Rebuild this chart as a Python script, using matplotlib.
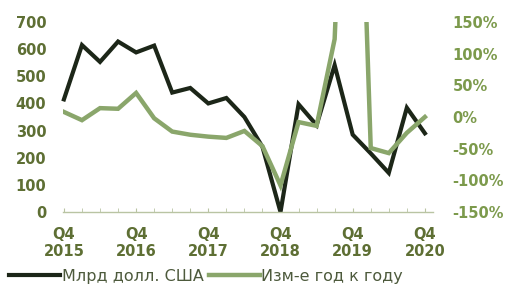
import matplotlib.pyplot as plt

# quarterly data, Q4 2015 .. Q4 2020
quarters = list(range(21))
usd_bn = [415, 615, 553, 628, 588, 613, 440, 457, 400, 420, 350,
          240, 0, 397, 320, 541, 285, 216, 144, 384, 290]
yoy_pct = [8, -5, 14, 13, 38, -2, -23, -28, -31, -33, -22,
           -46, -108, -8, -14, 123, 800, -49, -57, -25, 0]
tick_pos = [0, 4, 8, 12, 16, 20]
tick_labels = ['Q4\n2015', 'Q4\n2016', 'Q4\n2017', 'Q4\n2018', 'Q4\n2019', 'Q4\n2020']

dark = '#1c2618'
light = '#8aa66b'
left_txt = '#5e6f34'
right_txt = '#7c9a4c'
axis_col = '#b9c4a3'

plt.rcParams['font.family'] = ['DejaVu Sans']

fig = plt.figure(figsize=(5.09, 2.85), dpi=100)
ax = fig.add_axes([0.1238, 0.2561, 0.7269, 0.6667])
ax2 = ax.twinx()

l1, = ax.plot(quarters, usd_bn, color=dark, lw=3.0, clip_on=False,
              solid_joinstyle='miter', label='Млрд долл. США')
l2, = ax2.plot(quarters, yoy_pct, color=light, lw=3.2,
               solid_joinstyle='miter', label='Изм-е год к году')

ax.set_xlim(-0.05, 20.45)
ax.set_ylim(0, 700)
ax.set_yticks(range(0, 701, 100))
ax2.set_ylim(-150, 150)
ax2.set_yticks(range(-150, 151, 50))
ax2.set_yticklabels([f'{v}%' for v in range(-150, 151, 50)])

ax.set_xticks(tick_pos)
ax.set_xticklabels(tick_labels, fontsize=10.5, fontweight='bold', color=left_txt,
                   linespacing=1.15)
ax.set_xticks(quarters, minor=True)

for a in (ax, ax2):
    for s in ('top', 'left', 'right'):
        a.spines[s].set_visible(False)
    a.spines['bottom'].set_color(axis_col)
    a.spines['bottom'].set_linewidth(1.0)

ax.tick_params(axis='x', which='both', direction='in', length=3, color=axis_col, pad=11)
ax.tick_params(axis='y', length=0, pad=12, labelsize=10.5, labelcolor=left_txt)
ax2.tick_params(axis='y', length=0, pad=14, labelsize=10.5, labelcolor=right_txt)
for lab in ax.get_yticklabels() + ax2.get_yticklabels():
    lab.set_fontweight('bold')
ax2.spines['bottom'].set_visible(False)

fig.legend(handles=[l1, l2], loc='lower left', bbox_to_anchor=(0.018, 0.005),
           ncol=2, frameon=False, fontsize=11.5, handlelength=3.2,
           handletextpad=0.1, columnspacing=0.3, borderpad=0, borderaxespad=0,
           labelcolor='#4d5a3c')

fig.savefig('out.png', dpi=100)
